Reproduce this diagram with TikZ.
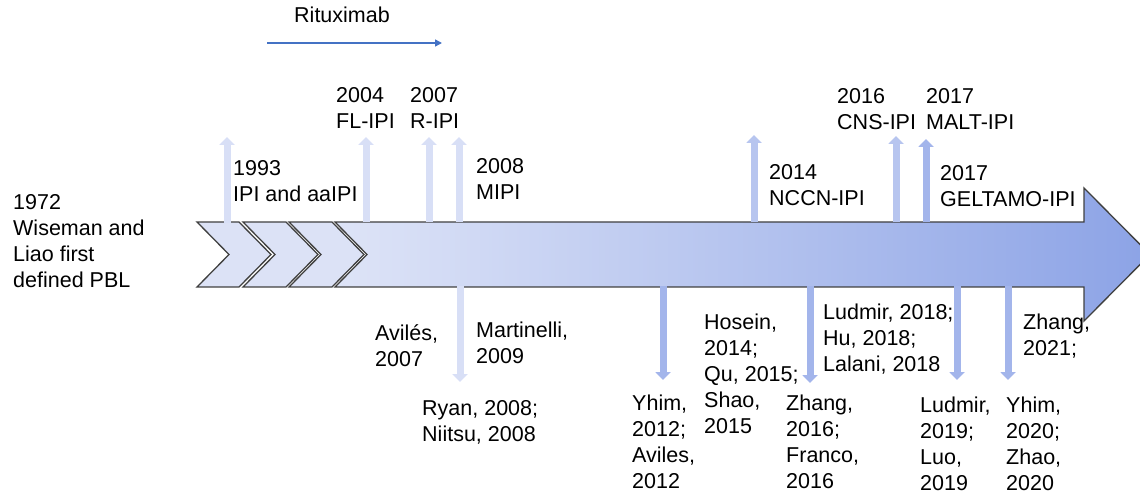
\documentclass[tikz,border=0pt]{standalone}
\usepackage{fontspec}
\setmainfont{Liberation Sans}
\usetikzlibrary{arrows.meta}

\definecolor{chevronfill}{RGB}{220,226,246}
\definecolor{bodyleft}{RGB}{222,228,247}
\definecolor{bodyright}{RGB}{140,163,230}
\definecolor{palearrow}{RGB}{216,223,246}
\definecolor{midarrow}{RGB}{183,197,239}
\definecolor{deeparrow}{RGB}{163,181,235}
\definecolor{rituxblue}{RGB}{68,114,196}

\begin{document}
\begin{tikzpicture}[
		x=1pt, y=-1pt,
		entry/.style={anchor=north west, inner sep=0pt, align=left, font=\fontsize{21.5}{26}\selectfont},
		outline/.style={draw=black!75, line width=1.3pt, line join=miter},
		chevron/.style={outline, fill=chevronfill},
		up arrow/.style={line width=7pt, -{Triangle[length=8pt, width=15pt]}},
		down arrow/.style={line width=7pt, -{Triangle[length=8pt, width=15pt]}},
	]
		\useasboundingbox (0,0) rectangle (1140,494);
		\clip (0,0) rectangle (1140,494);

		\path[outline, left color=bodyleft, right color=bodyright, shading angle=90]
			(335,222) -- (1084,222) -- (1084,188) -- (1150,254.5) -- (1084,321) -- (1084,287)
			-- (335,287) -- (367,254.5) -- cycle;
		\path[chevron] (197,222) -- (239,222) -- (271,254.5) -- (239,287) -- (197,287) -- (229,254.5) -- cycle;
		\path[chevron] (243,222) -- (286,222) -- (318,254.5) -- (286,287) -- (243,287) -- (275,254.5) -- cycle;
		\path[chevron] (289,222) -- (332,222) -- (364,254.5) -- (332,287) -- (289,287) -- (321,254.5) -- cycle;

		\node (rituximab) [entry] at (294,7) {Rituximab};
		\coordinate (ritux start) at (267,43);
		\coordinate (ritux end) at (442,43);
		\draw[rituxblue, line width=1.5pt, -{Triangle[length=7pt, width=7pt]}] (ritux start) -- (ritux end);

		\node (pbl) [entry] at (13,194) {1972\\Wiseman and\\Liao first\\defined PBL};
		\node (ipi) [entry] at (233,160) {1993\\IPI and aaIPI};
		\node (fl ipi) [entry] at (336,87) {2004\\FL-IPI};
		\node (r ipi) [entry] at (410,87) {2007\\R-IPI};
		\node (mipi) [entry] at (476,158) {2008\\MIPI};
		\node (nccn ipi) [entry] at (769,164) {2014\\NCCN-IPI};
		\node (cns ipi) [entry] at (837,88) {2016\\CNS-IPI};
		\node (malt ipi) [entry] at (926,88) {2017\\MALT-IPI};
		\node (geltamo ipi) [entry] at (940,165) {2017\\GELTAMO-IPI};

		\node (aviles 2007) [entry] at (375,324) {Avilés,\\2007};
		\node (martinelli) [entry] at (476,322) {Martinelli,\\2009};
		\node (ryan) [entry] at (422,400) {Ryan, 2008;\\Niitsu, 2008};
		\node (yhim 2012) [entry] at (632,395) {Yhim,\\2012;\\Aviles,\\2012};
		\node (hosein) [entry] at (704,314) {Hosein,\\2014;\\Qu, 2015;\\Shao,\\2015};
		\node (zhang 2016) [entry] at (786,395) {Zhang,\\2016;\\Franco,\\2016};
		\node (ludmir 2018) [entry] at (823,304) {Ludmir, 2018;\\Hu, 2018;\\Lalani, 2018};
		\node (ludmir 2019) [entry] at (920,397) {Ludmir,\\2019;\\Luo,\\2019};
		\node (yhim 2020) [entry] at (1006,397) {Yhim,\\2020;\\Zhao,\\2020};
		\node (zhang 2021) [entry] at (1023,314) {Zhang,\\2021;};

		\coordinate (ipi base) at (227,223.5);
		\coordinate (ipi tip) at (227,137);
		\coordinate (fl ipi base) at (366,222.5);
		\coordinate (fl ipi tip) at (366,137);
		\coordinate (r ipi base) at (429,222.5);
		\coordinate (r ipi tip) at (429,137);
		\coordinate (mipi base) at (459,222.5);
		\coordinate (mipi tip) at (459,137);
		\coordinate (nccn base) at (754,222.5);
		\coordinate (nccn tip) at (754,135);
		\coordinate (cns base) at (896,222.5);
		\coordinate (cns tip) at (896,136);
		\coordinate (malt base) at (926,222.5);
		\coordinate (malt tip) at (926,139);

		\draw[up arrow, palearrow] (ipi base) -- (ipi tip);
		\draw[up arrow, palearrow] (fl ipi base) -- (fl ipi tip);
		\draw[up arrow, palearrow] (r ipi base) -- (r ipi tip);
		\draw[up arrow, palearrow] (mipi base) -- (mipi tip);
		\draw[up arrow, midarrow] (nccn base) -- (nccn tip);
		\draw[up arrow, midarrow] (cns base) -- (cns tip);
		\draw[up arrow, deeparrow] (malt base) -- (malt tip);

		\coordinate (ryan base) at (460,286.5);
		\coordinate (ryan tip) at (460,382);
		\coordinate (yhim 2012 base) at (663,286.5);
		\coordinate (yhim 2012 tip) at (663,380);
		\coordinate (zhang 2016 base) at (810,286.5);
		\coordinate (zhang 2016 tip) at (810,383);
		\coordinate (ludmir 2019 base) at (957,286.5);
		\coordinate (ludmir 2019 tip) at (957,380);
		\coordinate (yhim 2020 base) at (1008,286.5);
		\coordinate (yhim 2020 tip) at (1008,380);

		\draw[down arrow, palearrow] (ryan base) -- (ryan tip);
		\draw[down arrow, deeparrow] (yhim 2012 base) -- (yhim 2012 tip);
		\draw[down arrow, deeparrow] (zhang 2016 base) -- (zhang 2016 tip);
		\draw[down arrow, deeparrow] (ludmir 2019 base) -- (ludmir 2019 tip);
		\draw[down arrow, deeparrow] (yhim 2020 base) -- (yhim 2020 tip);
	\end{tikzpicture}
\end{document}
